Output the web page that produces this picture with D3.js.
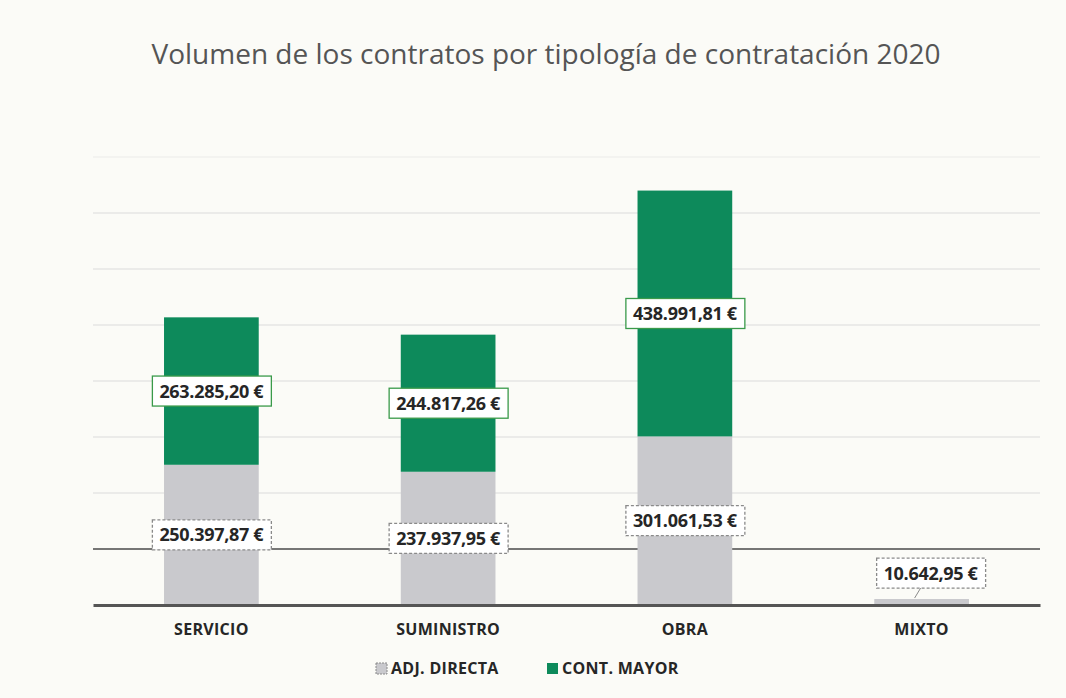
<!DOCTYPE html>
<html>
<head>
<meta charset="utf-8">
<script src="https://cdn.jsdelivr.net/npm/d3@7"></script>
<style>
  html, body { margin: 0; padding: 0; background: #fbfbf7; }
  svg { display: block; font-family: "Open Sans", "DejaVu Sans", sans-serif; }
</style>
</head>
<body>
<svg id="chart"></svg>
<script>
const categories = ["SERVICIO", "SUMINISTRO", "OBRA", "MIXTO"];
const seriesNames = ["ADJ. DIRECTA", "CONT. MAYOR"];
const adjDirecta = [250397.87, 237937.95, 301061.53, 10642.95];
const contMayor = [263285.20, 244817.26, 438991.81, 0];
const yTicks = [0, 100000, 200000, 300000, 400000, 500000, 600000, 700000, 800000];

const W = 1066, H = 698;
const margin = {top: 157, right: 26, bottom: 93, left: 93};
const w = W - margin.left - margin.right;
const h = H - margin.top - margin.bottom;

const colors = {"ADJ. DIRECTA": "#c9c9cd", "CONT. MAYOR": "#0d8a5b"};
const borders = {"ADJ. DIRECTA": "#8a8a8a", "CONT. MAYOR": "#3a9a4a"};

const es = d3.formatLocale({decimal: ",", thousands: ".", grouping: [3], currency: ["", " €"]});
const fmt = v => es.format(",.2f")(v) + " €";

const svg = d3.select("#chart").attr("width", W).attr("height", H);

svg.append("text")
  .attr("x", 546).attr("y", 64)
  .attr("text-anchor", "middle")
  .attr("font-size", 28)
  .attr("fill", "#555555")
  .text("Volumen de los contratos por tipología de contratación 2020");

const g = svg.append("g").attr("transform", `translate(${margin.left},${margin.top})`);

const x = d3.scaleBand().domain(categories).range([0, w]).paddingInner(0.6).paddingOuter(0.3);
const y = d3.scaleLinear().domain([0, 800000]).range([h, 0]);

// gridlines
g.append("g")
  .selectAll("line")
  .data(yTicks.filter(t => t > 0))
  .join("line")
  .attr("x1", 0).attr("x2", w)
  .attr("y1", d => y(d)).attr("y2", d => y(d))
  .attr("stroke", d => d === 100000 ? "#4a4a4a" : (d === 800000 ? "#ececea" : "#dcdcdc"))
  .attr("stroke-width", d => d === 100000 ? 1.5 : 1.2);

const table = categories.map((c, i) => ({cat: c, "ADJ. DIRECTA": adjDirecta[i], "CONT. MAYOR": contMayor[i]}));
const stacked = d3.stack().keys(seriesNames)(table);

g.append("g")
  .selectAll("g")
  .data(stacked)
  .join("g")
  .attr("fill", s => colors[s.key])
  .selectAll("rect")
  .data(s => s)
  .join("rect")
  .attr("x", d => x(d.data.cat))
  .attr("y", d => y(d[1]))
  .attr("width", x.bandwidth())
  .attr("height", d => y(d[0]) - y(d[1]));

// baseline axis
const xAxis = g.append("g")
  .attr("transform", `translate(0,${h})`)
  .call(d3.axisBottom(x).tickSize(0).tickPadding(19));
xAxis.select(".domain").attr("stroke", "#555").attr("stroke-width", 3);
xAxis.selectAll("text")
  .attr("font-size", 16).attr("font-weight", "bold")
  .attr("letter-spacing", 0.3)
  .attr("fill", "#262626")
  .attr("font-family", "\"Open Sans\", sans-serif");

// data labels
const labels = [];
stacked.forEach(s => s.forEach(d => {
  const v = d.data[s.key];
  if (v > 0) labels.push({key: s.key, cat: d.data.cat, v, y0: d[0], y1: d[1]});
}));

const lab = g.append("g");
labels.forEach(d => {
  const small = y(d.y0) - y(d.y1) < 30;
  let cx = x(d.cat) + x.bandwidth() / 2;
  let cy = (y(d.y0) + y(d.y1)) / 2;
  if (small) {
    cx += 9;
    cy = y(d.y1) - 26;
  }
  const grp = lab.append("g");
  const t = grp.append("text")
    .attr("x", cx).attr("y", cy)
    .attr("dy", "0.36em")
    .attr("text-anchor", "middle")
    .attr("font-size", 18).attr("font-weight", "bold")
    .attr("letter-spacing", -0.3)
    .attr("fill", "#262626")
    .text(fmt(d.v));
  const bb = t.node().getBBox();
  grp.insert("rect", "text")
    .attr("x", bb.x - 7).attr("y", cy - 15)
    .attr("width", bb.width + 14).attr("height", 30)
    .attr("fill", "#ffffff")
    .attr("stroke", borders[d.key])
    .attr("stroke-width", 1.3)
    .attr("stroke-dasharray", d.key === "ADJ. DIRECTA" ? "3,2" : null);
  if (small) {
    grp.append("line")
      .attr("x1", cx - 10).attr("y1", cy + 15)
      .attr("x2", cx - 16).attr("y2", y(d.y1) - 1)
      .attr("stroke", "#8a8a8a").attr("stroke-width", 1);
  }
});

// legend
const legend = svg.append("g").attr("transform", "translate(0,668)");
const legendX = [376, 547];
seriesNames.forEach((n, i) => {
  const lg = legend.append("g").attr("transform", `translate(${legendX[i]},0)`);
  lg.append("rect")
    .attr("x", 0).attr("y", -5).attr("width", 11).attr("height", 11)
    .attr("fill", colors[n])
    .attr("stroke", i === 0 ? "#8a8a8a" : "none")
    .attr("stroke-dasharray", i === 0 ? "2,1" : null);
  lg.append("text")
    .attr("x", 15).attr("y", 0).attr("dy", "0.36em")
    .attr("font-size", 16).attr("font-weight", "bold")
    .attr("letter-spacing", 0.3)
    .attr("fill", "#262626")
    .text(n);
});
</script>
</body>
</html>
